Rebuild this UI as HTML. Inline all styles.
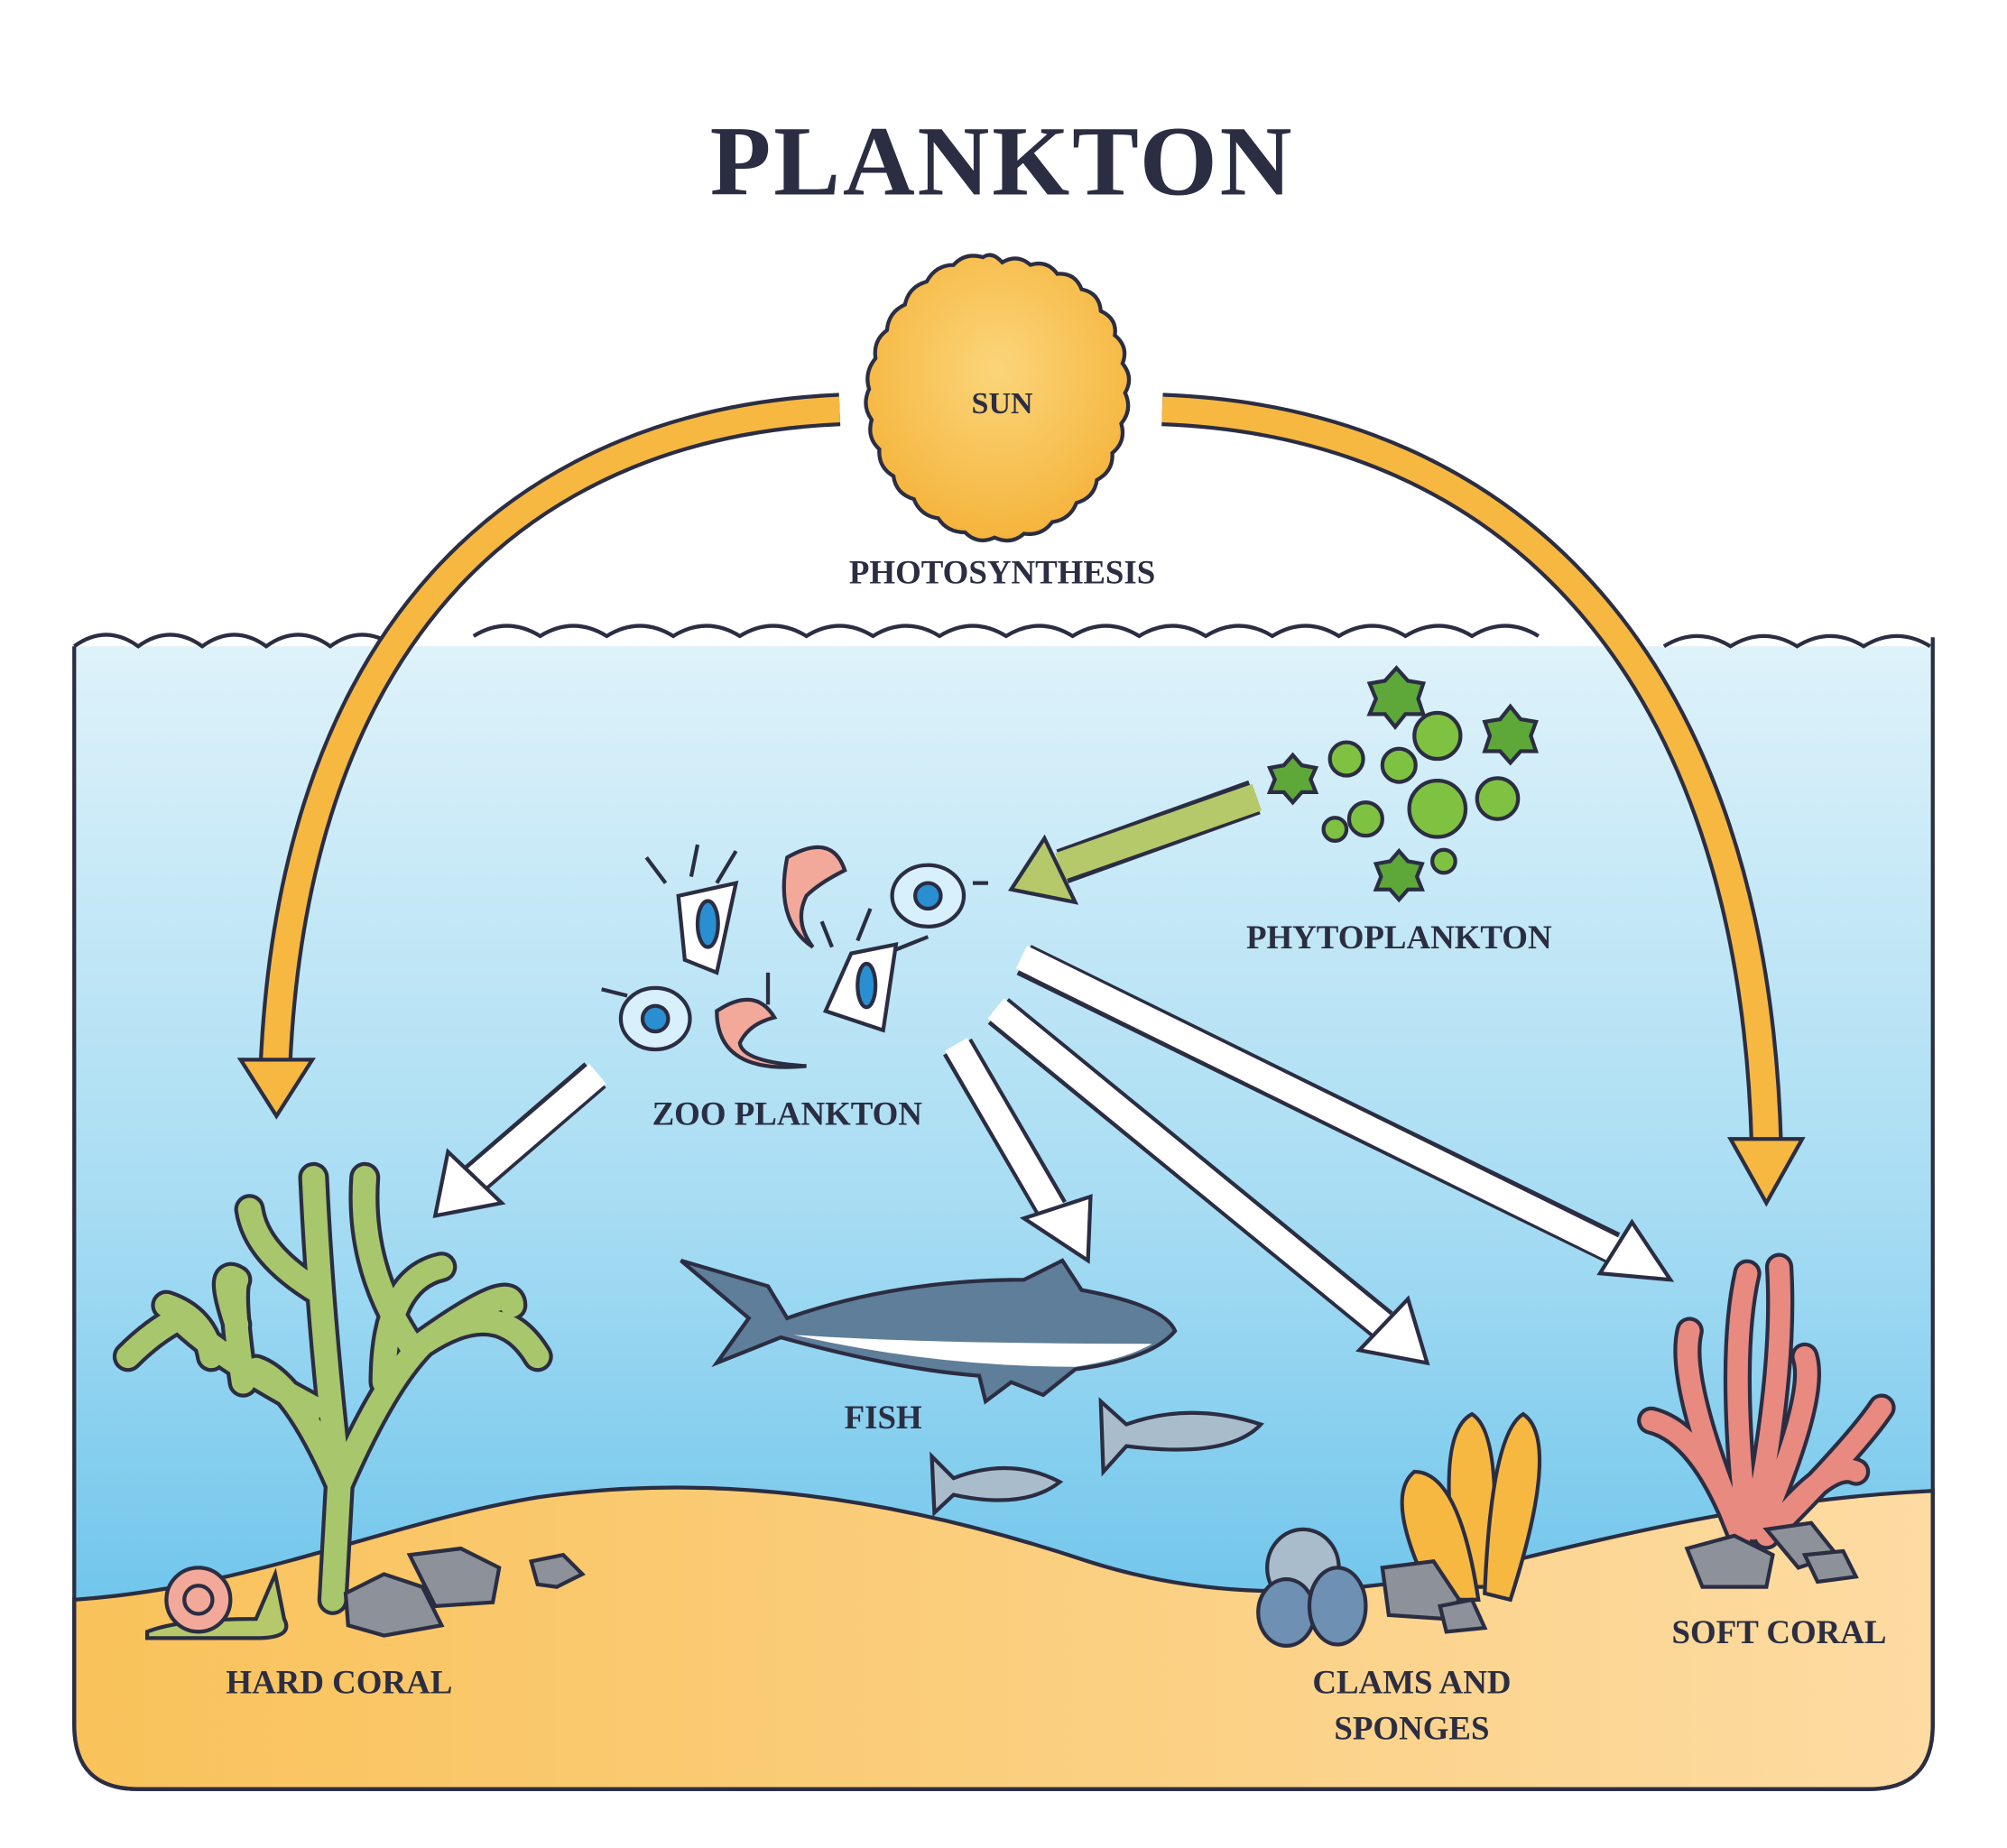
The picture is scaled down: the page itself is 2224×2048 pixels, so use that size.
<!DOCTYPE html>
<html><head><meta charset="utf-8"><style>
html,body{margin:0;padding:0;background:#fff;}
svg{display:block;}
text{font-family:"Liberation Serif",serif;font-weight:bold;fill:#2b2d42;text-anchor:middle;}
</style></head><body>
<svg width="2224" height="2048" viewBox="0 0 1568 1444" preserveAspectRatio="none" xmlns="http://www.w3.org/2000/svg">
<defs>
<linearGradient id="water" x1="0" y1="0" x2="0" y2="1">
<stop offset="0" stop-color="#def2fa"/><stop offset="0.5" stop-color="#a6dcf3"/><stop offset="1" stop-color="#57bbe8"/>
</linearGradient>
<linearGradient id="sand" x1="0" y1="0" x2="1" y2="0">
<stop offset="0" stop-color="#f9c25a"/><stop offset="1" stop-color="#fddba2"/>
</linearGradient>
<radialGradient id="sun" cx="0.5" cy="0.4" r="0.6">
<stop offset="0" stop-color="#fbd57a"/><stop offset="1" stop-color="#f5b43c"/>
</radialGradient>
</defs>
<rect width="1568" height="1444" fill="#fff"/>
<text x="783" y="152" font-size="78" style="letter-spacing:2px">PLANKTON</text>

<!-- water -->
<path d="M58,505 L58,1348 Q58,1398 108,1398 L1460,1398 Q1510,1398 1510,1348 L1510,505 Z" fill="url(#water)"/>
<!-- sand -->
<path d="M58,1250 C200,1240 300,1190 420,1170 C560,1150 700,1170 850,1220 C950,1252 1050,1250 1180,1220 C1300,1190 1400,1170 1510,1165 L1510,1348 Q1510,1398 1460,1398 L108,1398 Q58,1398 58,1348 Z" fill="url(#sand)" stroke="#2b2d42" stroke-width="3"/>
<path d="M58,505 L58,1348 Q58,1398 108,1398 L1460,1398 Q1510,1398 1510,1348 L1510,498" fill="none" stroke="#2b2d42" stroke-width="3"/>
<!-- waves -->
<path d="M58,505 q25,-18 50,0 q25,-18 50,0 q25,-18 50,0 q25,-18 50,0 q25,-18 50,0" fill="none" stroke="#2b2d42" stroke-width="3"/>
<path d="M370,497 q26,-16 52,0 q26,-16 52,0 q26,-16 52,0 q26,-16 52,0 q26,-16 52,0 q26,-16 52,0 q26,-16 52,0 q26,-16 52,0 q26,-16 52,0 q26,-16 52,0 q26,-16 52,0 q26,-16 52,0 q26,-16 52,0 q26,-16 52,0 q26,-16 52,0 q26,-16 52,0" fill="none" stroke="#2b2d42" stroke-width="3"/>
<path d="M1300,505 q26,-16 52,0 q26,-16 52,0 q26,-16 52,0 q26,-16 52,0" fill="none" stroke="#2b2d42" stroke-width="3"/>

<!-- sun -->
<g transform="translate(783,310)">
<path id="sunp" d="" fill="url(#sun)" stroke="#2b2d42" stroke-width="3"/>
<circle r="90" fill="#f8c452" opacity="0.6"/>
</g>
<path d="M783,205 Q795,198 805,207 Q818,203 826,214 Q840,213 845,226 Q859,229 860,243 Q873,249 871,262 Q882,271 877,284 Q886,295 879,307 Q885,320 876,331 Q880,345 869,354 Q870,368 857,375 Q855,389 841,393 Q836,406 822,408 Q814,419 800,417 Q790,426 777,420 Q764,426 754,416 Q740,416 733,405 Q719,403 714,390 Q700,386 698,372 Q686,365 687,351 Q677,342 681,328 Q673,317 679,304 Q675,291 684,280 Q682,266 693,258 Q694,244 707,238 Q710,224 724,220 Q731,207 745,207 Q754,197 768,201 Q775,196 783,205 Z" fill="url(#sun)" stroke="#2b2d42" stroke-width="3"/>
<text x="783" y="323" font-size="24">SUN</text>
<text x="783" y="456" font-size="26">PHOTOSYNTHESIS</text>

<!-- orange arrows -->
<g fill="none" stroke-linecap="butt">
<path d="M656,320 C420,330 230,480 215,835" stroke="#2b2d42" stroke-width="26"/>
<path d="M656,320 C420,330 230,480 215,835" stroke="#f7b841" stroke-width="20"/>
<path d="M908,320 C1180,330 1370,520 1380,895" stroke="#2b2d42" stroke-width="26"/>
<path d="M908,320 C1180,330 1370,520 1380,895" stroke="#f7b841" stroke-width="20"/>
</g>
<polygon points="188,828 244,828 216,872" fill="#f7b841" stroke="#2b2d42" stroke-width="3"/>
<polygon points="1352,890 1408,890 1380,940" fill="#f7b841" stroke="#2b2d42" stroke-width="3"/>

<!-- green arrow -->
<path d="M980,623 L830,677" stroke="#2b2d42" stroke-width="28" fill="none"/>
<path d="M982,623 L828,677" stroke="#b5c96a" stroke-width="22" fill="none"/>
<polygon points="816,655 790,695 840,705" fill="#b5c96a" stroke="#2b2d42" stroke-width="3"/>

<!-- white arrows -->
<g fill="none">
<path d="M465,840 L370,922" stroke="#2b2d42" stroke-width="26"/><path d="M467,839 L368,924" stroke="#fff" stroke-width="20"/>
<path d="M748,818 L822,945" stroke="#2b2d42" stroke-width="26"/><path d="M747,816 L823,947" stroke="#fff" stroke-width="20"/>
<path d="M780,790 L1080,1035" stroke="#2b2d42" stroke-width="26"/><path d="M778,788 L1082,1037" stroke="#fff" stroke-width="20"/>
<path d="M800,750 L1260,975" stroke="#2b2d42" stroke-width="26"/><path d="M798,748 L1262,977" stroke="#fff" stroke-width="20"/>
</g>
<polygon points="350,900 340,950 392,940" fill="#fff" stroke="#2b2d42" stroke-width="3"/>
<polygon points="800,952 850,985 852,935" fill="#fff" stroke="#2b2d42" stroke-width="3"/>
<polygon points="1062,1055 1115,1065 1100,1015" fill="#fff" stroke="#2b2d42" stroke-width="3"/>
<polygon points="1250,995 1305,1000 1275,955" fill="#fff" stroke="#2b2d42" stroke-width="3"/>

<!-- phytoplankton -->
<g stroke="#2b2d42" stroke-width="3" fill="#7fc241">
<circle cx="1123" cy="575" r="18"/><circle cx="1093" cy="598" r="13"/><circle cx="1052" cy="593" r="13"/>
<circle cx="1123" cy="632" r="22"/><circle cx="1170" cy="624" r="16"/><circle cx="1067" cy="640" r="13"/>
<circle cx="1043" cy="648" r="9"/><circle cx="1128" cy="673" r="9"/><circle cx="1093" cy="543" r="9"/>
</g>
<g stroke="#2b2d42" stroke-width="3" fill="#5ea83a">
<polygon points="1091,522 1100,532 1112,534 1108,546 1112,558 1098,558 1090,568 1082,558 1070,558 1075,546 1070,534 1082,532"/>
<polygon points="1180,552 1188,562 1200,564 1196,575 1200,587 1188,587 1180,596 1172,587 1160,587 1164,575 1160,564 1172,562"/>
<polygon points="1010,590 1017,598 1028,600 1024,609 1028,619 1017,619 1010,627 1003,619 992,619 996,609 992,600 1003,598"/>
<polygon points="1093,665 1100,673 1111,675 1107,685 1111,695 1100,695 1093,703 1086,695 1075,695 1079,685 1075,675 1086,673"/>
</g>
<text x="1093" y="741" font-size="26">PHYTOPLANKTON</text>

<!-- zooplankton -->
<g stroke="#2b2d42" stroke-width="3">
<path d="M530,700 L575,690 L560,760 L535,750 Z" fill="#fff"/><ellipse cx="553" cy="722" rx="8" ry="18" fill="#2a8fd0"/>
<path d="M665,745 L700,738 L690,805 L645,790 Z" fill="#fff"/><ellipse cx="677" cy="770" rx="7" ry="17" fill="#2a8fd0"/>
<ellipse cx="725" cy="700" rx="28" ry="24" fill="#d8f0fb"/><circle cx="725" cy="700" r="10" fill="#2a8fd0"/>
<ellipse cx="512" cy="796" rx="27" ry="24" fill="#d8f0fb"/><circle cx="512" cy="796" r="10" fill="#2a8fd0"/>
<path d="M615,670 Q650,650 660,680 Q640,690 630,700 Q620,720 635,740 Q605,720 615,670Z" fill="#f2a99a"/>
<path d="M560,790 Q590,770 605,795 Q585,800 578,815 Q580,830 630,833 Q560,840 560,790Z" fill="#f2a99a"/>
<path d="M520,690 l-15,-20 M540,685 l5,-25 M560,690 l15,-25 M650,740 l-8,-20 M670,735 l10,-25 M700,742 l25,-10 M760,690 l12,0 M490,778 l-20,-5 M600,785 l0,-25" fill="none"/>
</g>
<text x="615" y="879" font-size="26">ZOO PLANKTON</text>

<!-- shark -->
<path d="M532,985 L600,1005 L615,1030 Q700,1000 800,1000 L830,985 L845,1008 Q910,1020 918,1040 Q900,1062 840,1070 L815,1090 L790,1080 L770,1095 L765,1075 Q700,1070 610,1045 L560,1065 L585,1030 Z" fill="#5f7e99" stroke="#2b2d42" stroke-width="3"/>
<path d="M620,1043 Q720,1050 900,1050 Q880,1062 840,1068 Q730,1068 620,1043Z" fill="#fff"/>
<text x="690" y="1116" font-size="26">FISH</text>
<g stroke="#2b2d42" stroke-width="3" fill="#a9bccc">
<path d="M860,1095 L880,1113 Q930,1095 985,1113 Q960,1140 880,1130 L862,1150 Z"/>
<path d="M728,1138 L745,1155 Q790,1138 828,1158 Q800,1180 745,1168 L730,1182 Z"/>
</g>

<!-- hard coral -->
<g fill="none" stroke-linecap="round">
<path d="M260,1250 L265,1160 Q230,1080 200,1070 M265,1160 Q250,1030 245,920 M250,1010 Q200,980 195,945 M265,1160 Q300,1080 330,1050 Q390,1010 420,1060 M300,1080 Q300,1000 345,990 M320,1050 Q280,990 285,920 M245,1100 Q170,1060 140,1030 Q120,1040 100,1060 M165,1060 Q160,1030 130,1020 M330,1050 Q400,1000 400,1020 M190,1080 Q180,1010 185,1000 M185,1035 Q170,990 185,1000" stroke="#2b2d42" stroke-width="24"/>
<path d="M260,1250 L265,1160 Q230,1080 200,1070 M265,1160 Q250,1030 245,920 M250,1010 Q200,980 195,945 M265,1160 Q300,1080 330,1050 Q390,1010 420,1060 M300,1080 Q300,1000 345,990 M320,1050 Q280,990 285,920 M245,1100 Q170,1060 140,1030 Q120,1040 100,1060 M165,1060 Q160,1030 130,1020 M330,1050 Q400,1000 400,1020 M190,1080 Q180,1010 185,1000 M185,1035 Q170,990 185,1000" stroke="#a8c66c" stroke-width="18"/>
</g>
<g stroke="#2b2d42" stroke-width="3" fill="#8d9199">
<polygon points="270,1245 300,1230 330,1240 345,1270 300,1278 272,1270"/>
<polygon points="320,1215 360,1210 390,1225 385,1252 340,1255"/>
<polygon points="415,1220 440,1215 455,1230 435,1240 420,1238"/>
</g>
<path d="M115,1275 Q140,1265 200,1265 L215,1230 L222,1265 Q230,1280 200,1280 L115,1280Z" fill="#b5c96a" stroke="#2b2d42" stroke-width="3"/>
<circle cx="155" cy="1250" r="25" fill="#f2a99a" stroke="#2b2d42" stroke-width="3"/>
<circle cx="155" cy="1250" r="11" fill="none" stroke="#2b2d42" stroke-width="3"/>
<text x="265" y="1323" font-size="26">HARD CORAL</text>

<!-- clams and sponges -->
<g stroke="#2b2d42" stroke-width="3">
<path d="M1140,1240 Q1120,1120 1150,1105 Q1175,1120 1165,1240Z" fill="#f7b841"/>
<path d="M1160,1245 Q1165,1120 1190,1105 Q1220,1125 1180,1250Z" fill="#f7b841"/>
<path d="M1120,1250 Q1080,1170 1105,1150 Q1140,1150 1155,1250Z" fill="#f7b841"/>
<polygon points="1080,1225 1120,1220 1140,1250 1130,1265 1085,1262" fill="#8d9199"/>
<polygon points="1125,1255 1150,1250 1160,1272 1130,1275" fill="#8d9199"/>
<ellipse cx="1018" cy="1225" rx="28" ry="30" fill="#a9bccc"/>
<ellipse cx="1005" cy="1260" rx="22" ry="26" fill="#6e90b2"/>
<ellipse cx="1045" cy="1255" rx="22" ry="30" fill="#6e90b2"/>
</g>
<text x="1103" y="1323" font-size="26">CLAMS AND</text>
<text x="1103" y="1359" font-size="26">SPONGES</text>

<!-- soft coral -->
<g fill="none" stroke-linecap="round">
<path d="M1360,1200 Q1330,1120 1290,1110 M1360,1200 Q1310,1080 1320,1040 M1365,1195 Q1350,1060 1365,995 M1370,1195 Q1395,1070 1390,990 M1375,1195 Q1420,1090 1410,1060 M1380,1200 Q1450,1130 1470,1100 M1385,1195 Q1430,1140 1450,1150" stroke="#2b2d42" stroke-width="22"/>
<path d="M1360,1200 Q1330,1120 1290,1110 M1360,1200 Q1310,1080 1320,1040 M1365,1195 Q1350,1060 1365,995 M1370,1195 Q1395,1070 1390,990 M1375,1195 Q1420,1090 1410,1060 M1380,1200 Q1450,1130 1470,1100 M1385,1195 Q1430,1140 1450,1150" stroke="#e88a80" stroke-width="16"/>
</g>
<g stroke="#2b2d42" stroke-width="3" fill="#8d9199">
<polygon points="1318,1210 1355,1200 1385,1215 1380,1240 1330,1240"/>
<polygon points="1380,1195 1415,1190 1435,1215 1405,1225"/>
<polygon points="1410,1215 1440,1212 1450,1232 1420,1236"/>
</g>
<text x="1390" y="1284" font-size="26">SOFT CORAL</text>
</svg>
</body></html>
